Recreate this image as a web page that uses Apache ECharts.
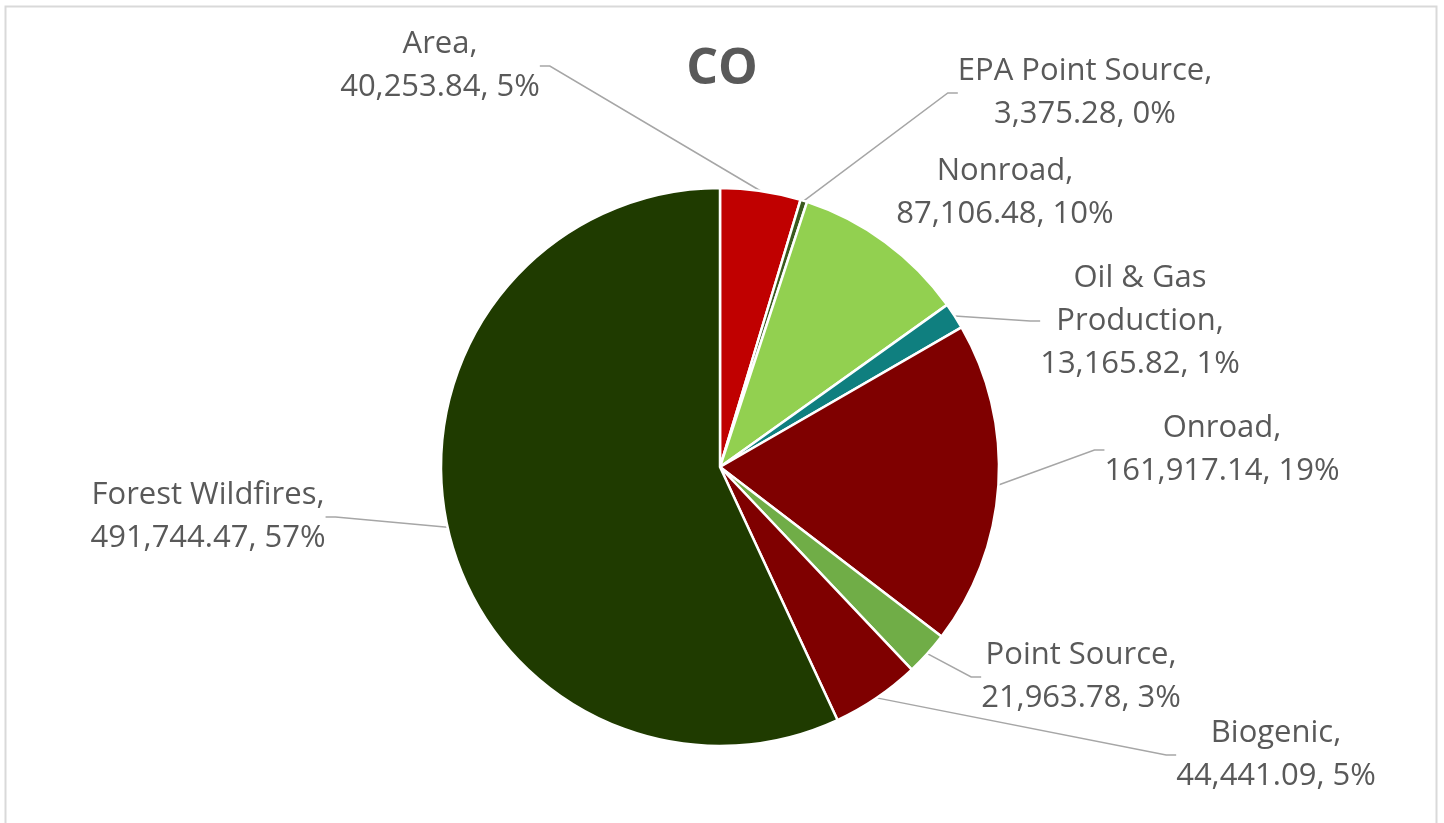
<!DOCTYPE html>
<html>
<head>
<meta charset="utf-8">
<script src="https://cdn.jsdelivr.net/npm/echarts@6/dist/echarts.min.js"></script>
<style>
  html, body { margin: 0; padding: 0; background: #ffffff; }
  #chart { width: 1444px; height: 823px; }
</style>
</head>
<body>
<div id="chart"></div>
<script>
// CO emissions by source category
const categories = [
  'Area', 'EPA Point Source', 'Nonroad', 'Oil & Gas\nProduction',
  'Onroad', 'Point Source', 'Biogenic', 'Forest Wildfires'
];
const emissions = [
  40253.84, 3375.28, 87106.48, 13165.82,
  161917.14, 21963.78, 44441.09, 491744.47
];
const sliceColors = [
  '#c00000', '#3a5a1e', '#92d050', '#0f7f7f',
  '#7f0000', '#70ad47', '#7f0000', '#1f3b00'
];
// label block centres (x, y) for each category
const labelSpots = [
  [440, 66], [1085, 93], [1005, 193], [1140, 321],
  [1222, 450], [1081, 677], [1276, 755], [208, 517]
];
// Nonroad's label sits right beside its slice, so it has no leader line
const showLeader = [true, true, false, true, true, true, true, true];

const fmt = v => v.toLocaleString('en-US', { minimumFractionDigits: 2, maximumFractionDigits: 2 });

const chart = echarts.init(document.getElementById('chart'));
chart.setOption({
  backgroundColor: '#ffffff',
  title: {
    text: 'CO',
    left: 'center',
    top: 40,
    textStyle: { fontFamily: 'Open Sans', fontSize: 50, fontWeight: 'bold', color: '#595959' }
  },
  graphic: [{
    type: 'rect',
    shape: { x: 5.5, y: 6.5, width: 1431, height: 840 },
    style: { fill: null, stroke: '#d9d9d9', lineWidth: 2 },
    silent: true
  }],
  series: [{
    type: 'pie',
    center: [720, 467],
    radius: 279,
    startAngle: 90,
    clockwise: true,
    percentPrecision: 0,
    avoidLabelOverlap: false,
    data: categories.map((c, i) => ({
      name: c,
      value: emissions[i],
      itemStyle: { color: sliceColors[i] },
      labelLine: { show: showLeader[i] }
    })),
    itemStyle: { borderColor: '#ffffff', borderWidth: 2.5 },
    label: {
      show: true,
      fontFamily: 'Open Sans',
      fontSize: 31,
      lineHeight: 43,
      color: '#595959',
      align: 'center',
      formatter: p => p.name + ',\n' + fmt(p.value) + ', ' + p.percent + '%'
    },
    labelLine: {
      show: true,
      length: 10,
      length2: 10,
      lineStyle: { color: '#a6a6a6', width: 1.5 }
    },
    labelLayout: p => ({
      x: labelSpots[p.dataIndex][0],
      y: labelSpots[p.dataIndex][1],
      align: 'center',
      verticalAlign: 'middle'
    }),
    emphasis: { disabled: true }
  }]
});
</script>
</body>
</html>
